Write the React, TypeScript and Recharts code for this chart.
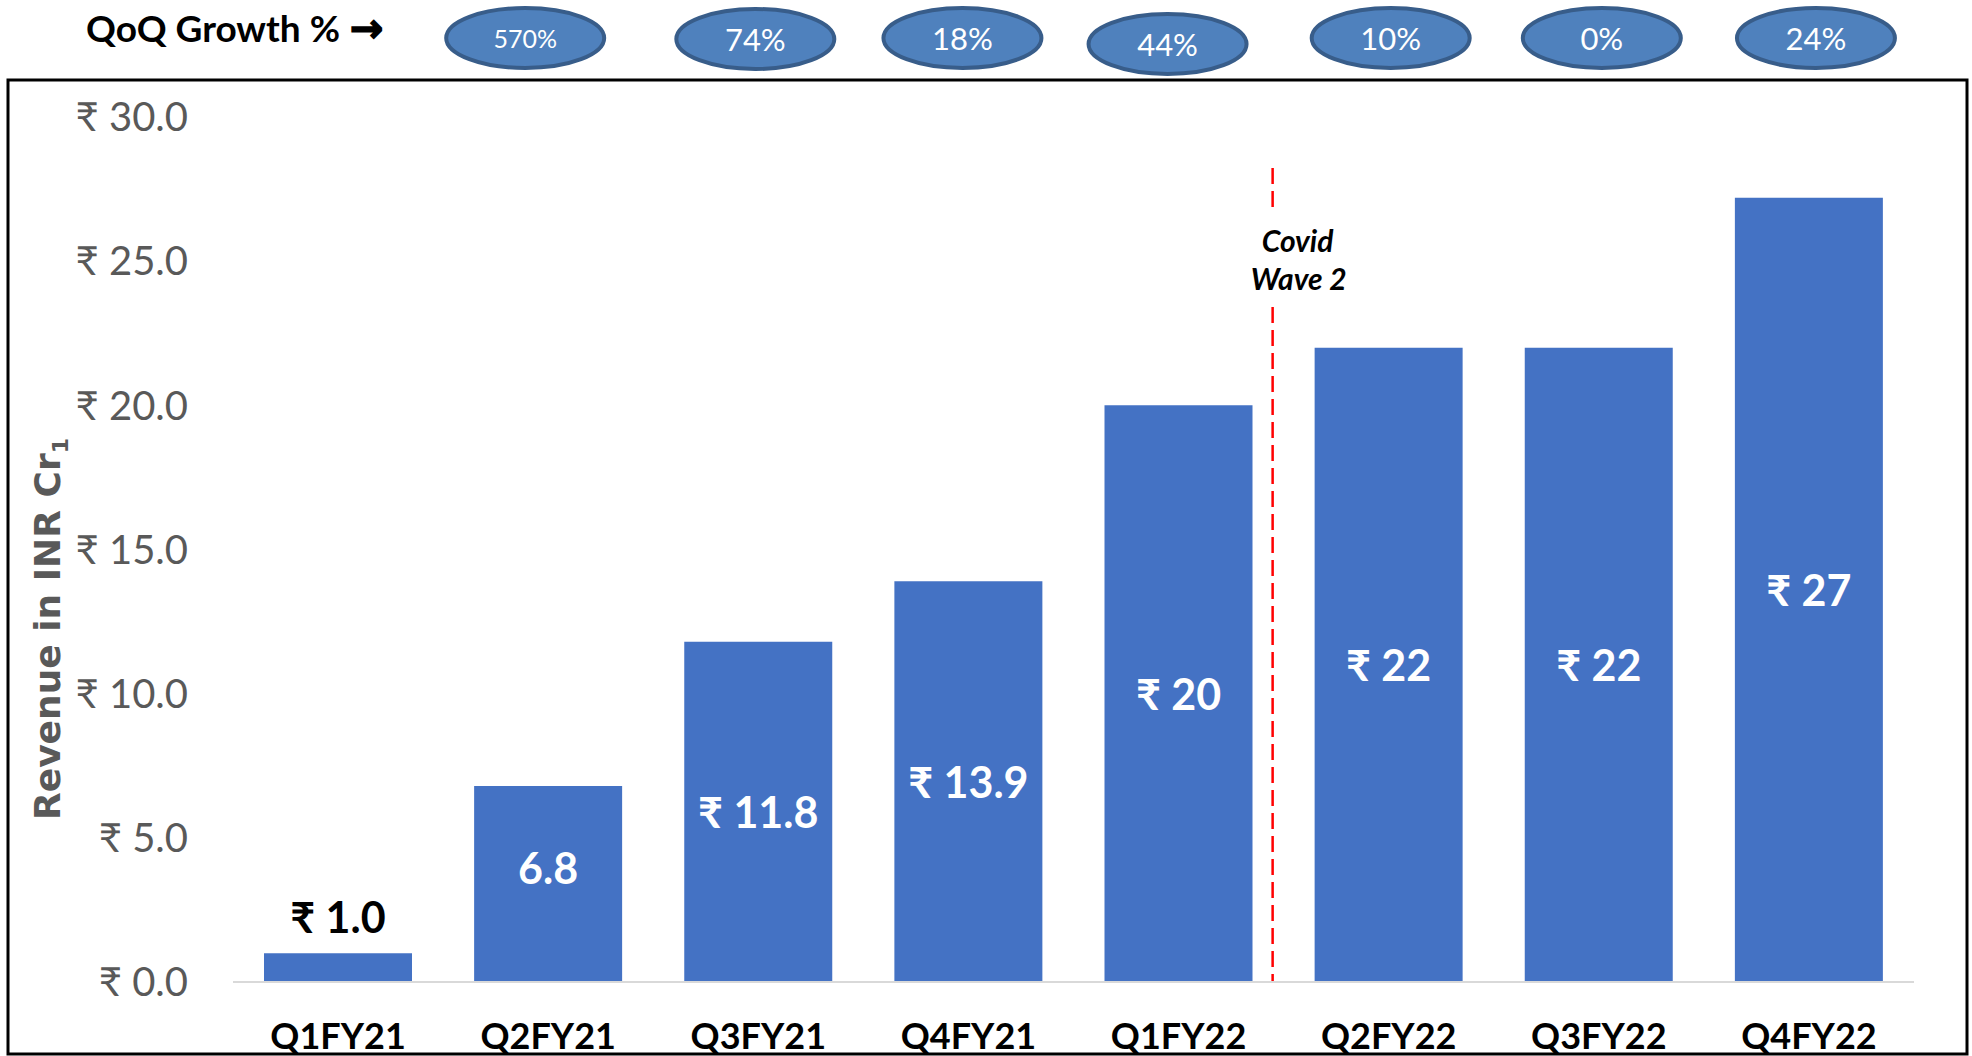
import { BarChart, Bar, XAxis, YAxis, LabelList, ReferenceLine } from 'recharts';

const quarters = ['Q1FY21', 'Q2FY21', 'Q3FY21', 'Q4FY21', 'Q1FY22', 'Q2FY22', 'Q3FY22', 'Q4FY22'];
const revenue = [1.0, 6.8, 11.8, 13.9, 20.0, 22.0, 22.0, 27.2];
const revenueLabels = ['₹ 1.0', '6.8', '₹ 11.8', '₹ 13.9', '₹ 20', '₹ 22', '₹ 22', '₹ 27'];
const qoqGrowth = ['', '570%', '74%', '18%', '44%', '10%', '0%', '24%'];
const yTicks = [0, 5, 10, 15, 20, 25, 30];

const BAR_BLUE = '#4472C4';
const AXIS_GREY = '#595959';
const FONT = "Lato, 'Noto Sans', 'DejaVu Sans', sans-serif";

// hand nudges so the growth pills sit where they were on the slide
const PILL_NUDGE = [[0, 0], [-23, 0], [-3, 1], [-6, 0], [-11, 6], [2, 0], [3, 0], [7, 0]];

const rows = quarters.map((q, i) => ({ quarter: q, revenue: revenue[i], label: revenueLabels[i] }));

function GrowthPill(props: any) {
  const { x, y, payload } = props;
  const i = payload?.index ?? props.index;
  const text = qoqGrowth[i];
  if (!text) return <g />;
  const [dx, dy] = PILL_NUDGE[i];
  const cx = x + dx;
  const cy = y - 79 + dy;
  return (
    <g>
      <ellipse cx={cx} cy={cy} rx={79} ry={30} fill="#4F81BD" stroke="#385D8A" strokeWidth={4} />
      <text
        x={cx}
        y={cy}
        textAnchor="middle"
        dominantBaseline="central"
        fill="#fff"
        fontFamily={FONT}
        fontSize={text.length > 3 ? 25 : 31}
      >
        {text}
      </text>
    </g>
  );
}

function ValueLabel(props: any) {
  const { x, y, width, height, index } = props;
  const text = revenueLabels[index];
  const cx = x + width / 2;
  if (index === 0) {
    // the first bar is too short, label sits above it in black
    return (
      <text x={cx} y={y - 37} textAnchor="middle" dominantBaseline="central" fill="#000"
        fontFamily={FONT} fontWeight={700} fontSize={43}>
        {text}
      </text>
    );
  }
  // the 6.8 label was nudged up a little on the slide
  const lift = index === 1 ? 16 : 0;
  return (
    <text x={cx} y={y + height / 2 - lift} textAnchor="middle" dominantBaseline="central" fill="#fff"
      fontFamily={FONT} fontWeight={700} fontSize={43}>
      {text}
    </text>
  );
}

function CovidLine(props: any) {
  const { x1, y1, y2 } = props;
  const x = x1 - 11;
  const top = Math.min(y1, y2) + 51;
  const bottom = Math.max(y1, y2);
  return (
    <g>
      <line x1={x} x2={x} y1={top} y2={top + 40} stroke="#FF0000" strokeWidth={2.5} strokeDasharray="16 7" />
      <line x1={x} x2={x} y1={top + 139} y2={bottom} stroke="#FF0000" strokeWidth={2.5} strokeDasharray="16 7" />
      <text x={x + 25} y={top + 72} textAnchor="middle" dominantBaseline="central" fill="#000"
        fontFamily={FONT} fontWeight={700} fontStyle="italic" fontSize={30}>
        Covid
      </text>
      <text x={x + 26} y={top + 110} textAnchor="middle" dominantBaseline="central" fill="#000"
        fontFamily={FONT} fontWeight={700} fontStyle="italic" fontSize={30}>
        Wave 2
      </text>
    </g>
  );
}

export default function App() {
  return (
    <div style={{ position: 'absolute', left: 0, top: 0, width: 1972, height: 1056, background: '#fff' }}>
      <BarChart
        width={1972}
        height={1056}
        data={rows}
        margin={{ top: 0, right: 58, bottom: 0, left: 0 }}
      >
        <XAxis
          xAxisId="top"
          orientation="top"
          dataKey="quarter"
          height={117}
          axisLine={false}
          tickLine={false}
          tickSize={0}
          tickMargin={0}
          interval={0}
          tick={<GrowthPill />}
        />
        <XAxis
          xAxisId="bottom"
          dataKey="quarter"
          height={74}
          axisLine={{ stroke: '#D9D9D9', strokeWidth: 2 }}
          tickLine={false}
          tickSize={0}
          tickMargin={41}
          interval={0}
          tick={{ fill: '#000', fontSize: 36, fontWeight: 700, fontFamily: FONT }}
        />
        <YAxis
          width={233}
          domain={[0, 30]}
          ticks={yTicks}
          axisLine={false}
          tickLine={false}
          tickSize={0}
          tickMargin={45}
          tickFormatter={(v: number) => `₹ ${v.toFixed(1)}`}
          tick={{ fill: AXIS_GREY, fontSize: 40, fontFamily: FONT }}
        />
        <ReferenceLine
          xAxisId="bottom"
          x="Q2FY22"
          position="start"
          stroke="#FF0000"
          shape={<CovidLine />}
        />
        <Bar xAxisId="bottom" dataKey="revenue" fill={BAR_BLUE} barSize={148} isAnimationActive={false}>
          <LabelList dataKey="label" content={<ValueLabel />} />
        </Bar>
      </BarChart>
      <svg
        width={1972}
        height={1056}
        style={{ position: 'absolute', left: 0, top: 0, pointerEvents: 'none' }}
      >
        <rect x={8} y={80} width={1959} height={974} fill="none" stroke="#000" strokeWidth={3} />
        <text x={86} y={42} fill="#000" fontFamily={FONT} fontWeight={700} fontSize={37}>
          QoQ Growth %
          <tspan dx={10} fontFamily="'DejaVu Sans', sans-serif" fontSize={40} stroke="#000" strokeWidth={1.5}>→</tspan>
        </text>
        <text
          transform="translate(60, 629) rotate(-90)"
          textAnchor="middle"
          fill={AXIS_GREY}
          fontFamily="'DejaVu Sans', sans-serif"
          fontWeight={700}
          fontSize={36}
        >
          Revenue in INR Cr
          <tspan fontSize={22} dy={8}>1</tspan>
        </text>
      </svg>
    </div>
  );
}
